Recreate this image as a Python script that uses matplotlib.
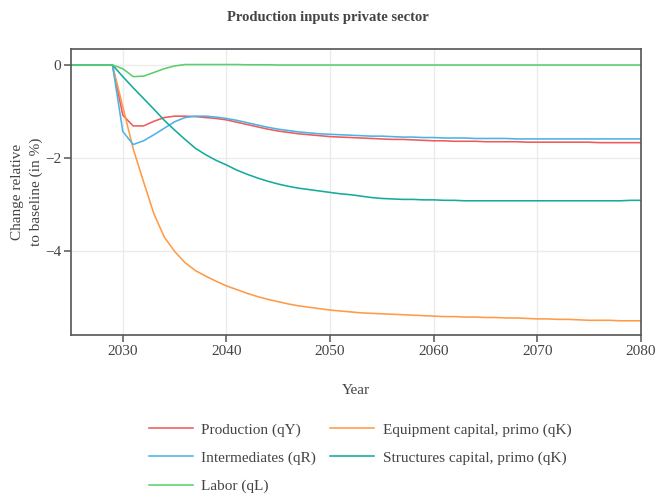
import matplotlib
matplotlib.use("Agg")
import matplotlib.pyplot as plt
from matplotlib.ticker import FuncFormatter

years = list(range(2025, 2081))

production = [0, 0, 0, 0, 0,
              -1.08, -1.31, -1.31, -1.21, -1.13, -1.10, -1.10, -1.11, -1.13, -1.15,
              -1.18, -1.23, -1.28, -1.33, -1.38, -1.42, -1.45, -1.48, -1.50, -1.52,
              -1.54, -1.55, -1.56, -1.57, -1.58, -1.59, -1.60, -1.60, -1.61, -1.62,
              -1.63, -1.63, -1.64, -1.64, -1.64, -1.65, -1.65, -1.65, -1.65, -1.66,
              -1.66, -1.66, -1.66, -1.66, -1.66, -1.66, -1.67, -1.67, -1.67, -1.67,
              -1.67]

intermediates = [0, 0, 0, 0, 0,
                 -1.43, -1.71, -1.63, -1.50, -1.36, -1.22, -1.13, -1.10, -1.10, -1.12,
                 -1.15, -1.19, -1.24, -1.29, -1.34, -1.38, -1.41, -1.44, -1.46, -1.48,
                 -1.49, -1.50, -1.51, -1.52, -1.53, -1.53, -1.54, -1.55, -1.55, -1.56,
                 -1.56, -1.57, -1.57, -1.57, -1.58, -1.58, -1.58, -1.58, -1.59, -1.59,
                 -1.59, -1.59, -1.59, -1.59, -1.59, -1.59, -1.59, -1.59, -1.59, -1.59,
                 -1.59]

equipment = [0, 0, 0, 0, 0,
             -0.90, -1.80, -2.51, -3.20, -3.70, -4.01, -4.25, -4.42, -4.54, -4.65,
             -4.75, -4.83, -4.91, -4.98, -5.04, -5.09, -5.14, -5.18, -5.21, -5.24,
             -5.27, -5.29, -5.31, -5.33, -5.34, -5.35, -5.36, -5.37, -5.38, -5.39,
             -5.40, -5.41, -5.41, -5.42, -5.42, -5.43, -5.43, -5.44, -5.44, -5.45,
             -5.46, -5.46, -5.47, -5.47, -5.48, -5.49, -5.49, -5.49, -5.50, -5.50,
             -5.50]

structures = [0, 0, 0, 0, 0,
              -0.25, -0.49, -0.72, -0.95, -1.19, -1.40, -1.60, -1.79, -1.93, -2.05,
              -2.15, -2.26, -2.35, -2.43, -2.50, -2.56, -2.61, -2.65, -2.68, -2.71,
              -2.74, -2.77, -2.79, -2.82, -2.85, -2.87, -2.88, -2.89, -2.89, -2.90,
              -2.90, -2.91, -2.91, -2.92, -2.92, -2.92, -2.92, -2.92, -2.92, -2.92,
              -2.92, -2.92, -2.92, -2.92, -2.92, -2.92, -2.92, -2.92, -2.92, -2.91,
              -2.91]

labor = [0, 0, 0, 0, 0,
         -0.08, -0.25, -0.24, -0.16, -0.08, -0.02, 0.01, 0.01, 0.01, 0.01,
         0.01, 0.01, 0.005, 0.005, 0.005, 0.0, 0.0, 0.0, 0.0, 0.0,
         0, 0, 0, 0, 0, 0, 0, 0, 0, 0,
         0, 0, 0, 0, 0, 0, 0, 0, 0, 0,
         0, 0, 0, 0, 0, 0, 0, 0, 0, 0,
         0]

series = [
    ("Production (qY)", production, "#f05a5a"),
    ("Equipment capital, primo (qK)", equipment, "#ff9a47"),
    ("Intermediates (qR)", intermediates, "#4cb3e6"),
    ("Structures capital, primo (qK)", structures, "#14ab9c"),
    ("Labor (qL)", labor, "#5ccf6c"),
]

plt.rcParams["font.family"] = ["Liberation Serif", "DejaVu Serif"]
text_color = "#444444"
W, H = 656, 495

fig = plt.figure(figsize=(W / 100, H / 100), dpi=100)
ax = fig.add_axes([71 / W, 1 - 335 / H, 570 / W, 286 / H])

handles = {}
for name, vals, color in series:
    line, = ax.plot(years, vals, color=color, lw=1.15, label=name)
    handles[name] = line

ax.set_xlim(2025, 2080)
ax.set_ylim(-5.806, 0.344)
ax.set_xticks([2030, 2040, 2050, 2060, 2070, 2080])
ax.set_yticks([0, -2, -4])
ax.yaxis.set_major_formatter(FuncFormatter(lambda v, p: f"{int(v)}".replace("-", "\u2212")))
ax.grid(True, color="#ebebeb", lw=1)
ax.set_axisbelow(True)
for s in ax.spines.values():
    s.set_color("#555555")
    s.set_linewidth(1.2)
ax.tick_params(axis="both", colors="#555555", labelcolor=text_color,
               labelsize=11, length=5, width=1.1, direction="out", pad=2)

ax.set_xlabel("Year", fontsize=11, color=text_color, labelpad=19)
fig.text(27 / W, 1 - 192 / H, "Change relative\nto baseline (in %)", rotation=90,
         ha="center", va="center", fontsize=11, color=text_color,
         linespacing=1.5, multialignment="center")
fig.text(0.5, 1 - 17 / H, "Production inputs private sector", ha="center",
         va="center", fontsize=10.5, fontweight="bold", color=text_color)

order = ["Production (qY)", "Intermediates (qR)", "Labor (qL)",
         "Equipment capital, primo (qK)", "Structures capital, primo (qK)"]
fig.legend([handles[n] for n in order], order, ncol=2, frameon=False,
           loc="upper left", bbox_to_anchor=(135 / W, 1 - 409 / H),
           fontsize=11, handlelength=2.9, handletextpad=0.55,
           columnspacing=0.9, labelspacing=0.95, labelcolor=text_color)

fig.savefig("out.png", dpi=100)
